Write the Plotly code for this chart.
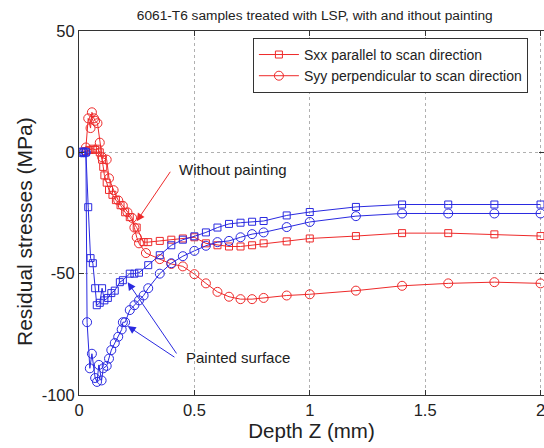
import plotly.graph_objects as go

# Without painting, Sxx (red squares)
sxx_np_x = [0.03, 0.045, 0.06, 0.07, 0.08, 0.09, 0.10, 0.105, 0.11, 0.12, 0.13, 0.145, 0.16, 0.18, 0.20, 0.22, 0.25, 0.28,
            0.30, 0.35, 0.40, 0.45, 0.50, 0.55, 0.60, 0.65, 0.70, 0.75, 0.80, 0.90, 1.00, 1.20, 1.40, 1.60, 1.80, 2.00]
sxx_np_y = [0.5, 1, 1.5, 1, 1.5, 0, -3, -6, -9.5, -12.5, -15.5, -17.5, -19.7, -21.8, -24.7, -26.7, -31, -37,
            -37, -36.5, -36, -35.5, -35, -37.5, -38.3, -38.8, -38.8, -38.3, -37.5, -36.7, -35.5, -34.5, -33.3, -33.3, -33.8, -34.5]

# Without painting, Syy (red circles)
syy_np_x = [0.03, 0.04, 0.05, 0.056, 0.065, 0.07, 0.08, 0.09, 0.10, 0.12, 0.13, 0.15, 0.17, 0.19, 0.21, 0.23, 0.24, 0.25,
            0.26, 0.29, 0.35, 0.40, 0.45, 0.50, 0.55, 0.60, 0.65, 0.70, 0.75, 0.80, 0.90, 1.00, 1.20, 1.40, 1.60, 1.80, 2.00]
syy_np_y = [2, 14, 10, 16.5, 14, 13, 12, 4, -2, -3, -10.7, -15.6, -19.8, -22, -24.7, -27, -31, -35,
            -37.5, -41.5, -44, -46, -47, -50.2, -54, -57.5, -59.5, -60.5, -60.5, -60, -59, -58.5, -57, -55, -54, -53.5, -54]

# Painted, Sxx (blue squares)
sxx_p_x = [0.01, 0.02, 0.03, 0.04, 0.05, 0.06, 0.07, 0.077, 0.09, 0.10, 0.11, 0.125, 0.14, 0.155, 0.177, 0.19, 0.22, 0.24,
           0.26, 0.30, 0.35, 0.40, 0.45, 0.50, 0.55, 0.60, 0.65, 0.70, 0.75, 0.80, 0.90, 1.00, 1.20, 1.40, 1.60, 1.80, 2.00]
sxx_p_y = [0, 0, 0, -22.6, -43.6, -45.7, -56, -63, -62, -56, -61, -60, -58, -57, -53.5, -52.7, -50, -50,
           -49.6, -46.5, -42.4, -38.3, -36, -34.6, -33, -31, -29.5, -29, -28.6, -28.3, -26, -24.6, -22.5, -21.5, -21.5, -21.5, -21.5]

# Painted, Syy (blue circles)
syy_p_x = [0.01, 0.02, 0.03, 0.035, 0.047, 0.056, 0.07, 0.078, 0.086, 0.098, 0.105, 0.12, 0.13, 0.14, 0.155, 0.17, 0.185,
           0.19, 0.20, 0.22, 0.24, 0.26, 0.28, 0.30, 0.35, 0.40, 0.45, 0.50, 0.55, 0.60, 0.65, 0.70, 0.75, 0.80, 0.90, 1.00,
           1.20, 1.40, 1.60, 1.80, 2.00]
syy_p_y = [0, 0, 0, -70, -89, -83, -93, -94.6, -87.6, -94, -89, -88, -85, -81.5, -78.6, -76, -73,
           -70, -70, -65, -63, -61, -59, -56, -50, -45.7, -42.8, -40.6, -38.5, -37, -36.5, -35, -33.7, -33, -30.8, -28.7,
           -26.3, -25.2, -25.2, -25.2, -25.2]

x_ticks = [0, 0.5, 1, 1.5, 2]
x_tick_labels = ["0", "0.5", "1", "1.5", "2"]
y_ticks = [-100, -50, 0, 50]
y_tick_labels = ["-100", "-50", "0", "50"]

RED = "#ee2a2a"
BLUE = "#2a2ae0"
TXT = "#222222"
FONT = "Liberation Sans, Arial, sans-serif"

fig = go.Figure()
fig.add_trace(go.Scatter(x=sxx_np_x, y=sxx_np_y, mode="lines+markers", name="Sxx parallel to scan direction",
                         line=dict(color=RED, width=1),
                         marker=dict(symbol="square-open", size=7, color=RED, line=dict(width=1))))
fig.add_trace(go.Scatter(x=syy_np_x, y=syy_np_y, mode="lines+markers", name="Syy perpendicular to scan direction",
                         line=dict(color=RED, width=1),
                         marker=dict(symbol="circle-open", size=9, color=RED, line=dict(width=1))))
fig.add_trace(go.Scatter(x=sxx_p_x, y=sxx_p_y, mode="lines+markers", showlegend=False,
                         line=dict(color=BLUE, width=1),
                         marker=dict(symbol="square-open", size=7, color=BLUE, line=dict(width=1))))
fig.add_trace(go.Scatter(x=syy_p_x, y=syy_p_y, mode="lines+markers", showlegend=False,
                         line=dict(color=BLUE, width=1),
                         marker=dict(symbol="circle-open", size=9, color=BLUE, line=dict(width=1))))

# annotations
fig.add_annotation(x=0.25, y=-28.4, ax=0.40, ay=-7.4, axref="x", ayref="y", xref="x", yref="y",
                   text="", showarrow=True, arrowhead=2, arrowsize=1.6, arrowwidth=1, arrowcolor=RED)
fig.add_annotation(x=0.425, y=-7, xref="x", yref="y", text="Without painting", showarrow=False,
                   xanchor="left", yanchor="middle", font=dict(size=15, color=TXT))
fig.add_annotation(x=0.211, y=-53.5, ax=0.427, ay=-83.5, axref="x", ayref="y", xref="x", yref="y",
                   text="", showarrow=True, arrowhead=2, arrowsize=1.6, arrowwidth=1, arrowcolor=BLUE)
fig.add_annotation(x=0.211, y=-71.6, ax=0.42, ay=-84.8, axref="x", ayref="y", xref="x", yref="y",
                   text="", showarrow=True, arrowhead=2, arrowsize=1.6, arrowwidth=1, arrowcolor=BLUE)
fig.add_annotation(x=0.455, y=-84.4, xref="x", yref="y", text="Painted surface", showarrow=False,
                   xanchor="left", yanchor="middle", font=dict(size=15, color=TXT))
# y-axis title (placed as in the reference, slightly below centre)
fig.add_annotation(x=-0.116, y=0.448, xref="paper", yref="paper", text="Residual stresses (MPa)",
                   showarrow=False, textangle=-90, xanchor="center", yanchor="middle",
                   font=dict(size=21, color=TXT))

fig.update_layout(
    width=544, height=448,
    margin=dict(l=79, r=0, t=31, b=53),
    paper_bgcolor="white", plot_bgcolor="white",
    font=dict(family=FONT, color=TXT),
    title=dict(text="6061-T6 samples treated with LSP, with and ithout painting",
               xref="paper", x=0.507, xanchor="center", yref="container", y=1 - 15 / 448, yanchor="middle",
               font=dict(size=13.7, color=TXT)),
    legend=dict(x=0.374, y=0.981, xanchor="left", yanchor="top", bgcolor="white",
                bordercolor="#333", borderwidth=1, font=dict(size=14, color=TXT),
                tracegroupgap=0, itemwidth=40),
    showlegend=True,
)
fig.update_xaxes(range=[0, 2.015], tickvals=x_ticks, ticktext=x_tick_labels, ticks="inside", ticklen=5,
                 tickcolor="#333", showline=True, linecolor="#333", linewidth=1, mirror="ticks",
                 showgrid=True, gridcolor="#b0b0b0", griddash="dot", gridwidth=1, zeroline=False,
                 automargin=False, ticklabeloverflow="allow",
                 tickfont=dict(size=16.5), title=dict(text="Depth Z (mm)", font=dict(size=20.5), standoff=4))
fig.update_yaxes(range=[-100, 50], tickvals=y_ticks, ticktext=y_tick_labels, ticks="inside", ticklen=5,
                 tickcolor="#333", showline=True, linecolor="#333", linewidth=1, mirror="ticks",
                 showgrid=True, gridcolor="#b0b0b0", griddash="dot", gridwidth=1, zeroline=False,
                 automargin=False, tickfont=dict(size=16.5))

fig.write_html("out.html", config={"displayModeBar": False},
               post_script="document.body.style.margin='0';document.body.style.overflow='hidden';")
